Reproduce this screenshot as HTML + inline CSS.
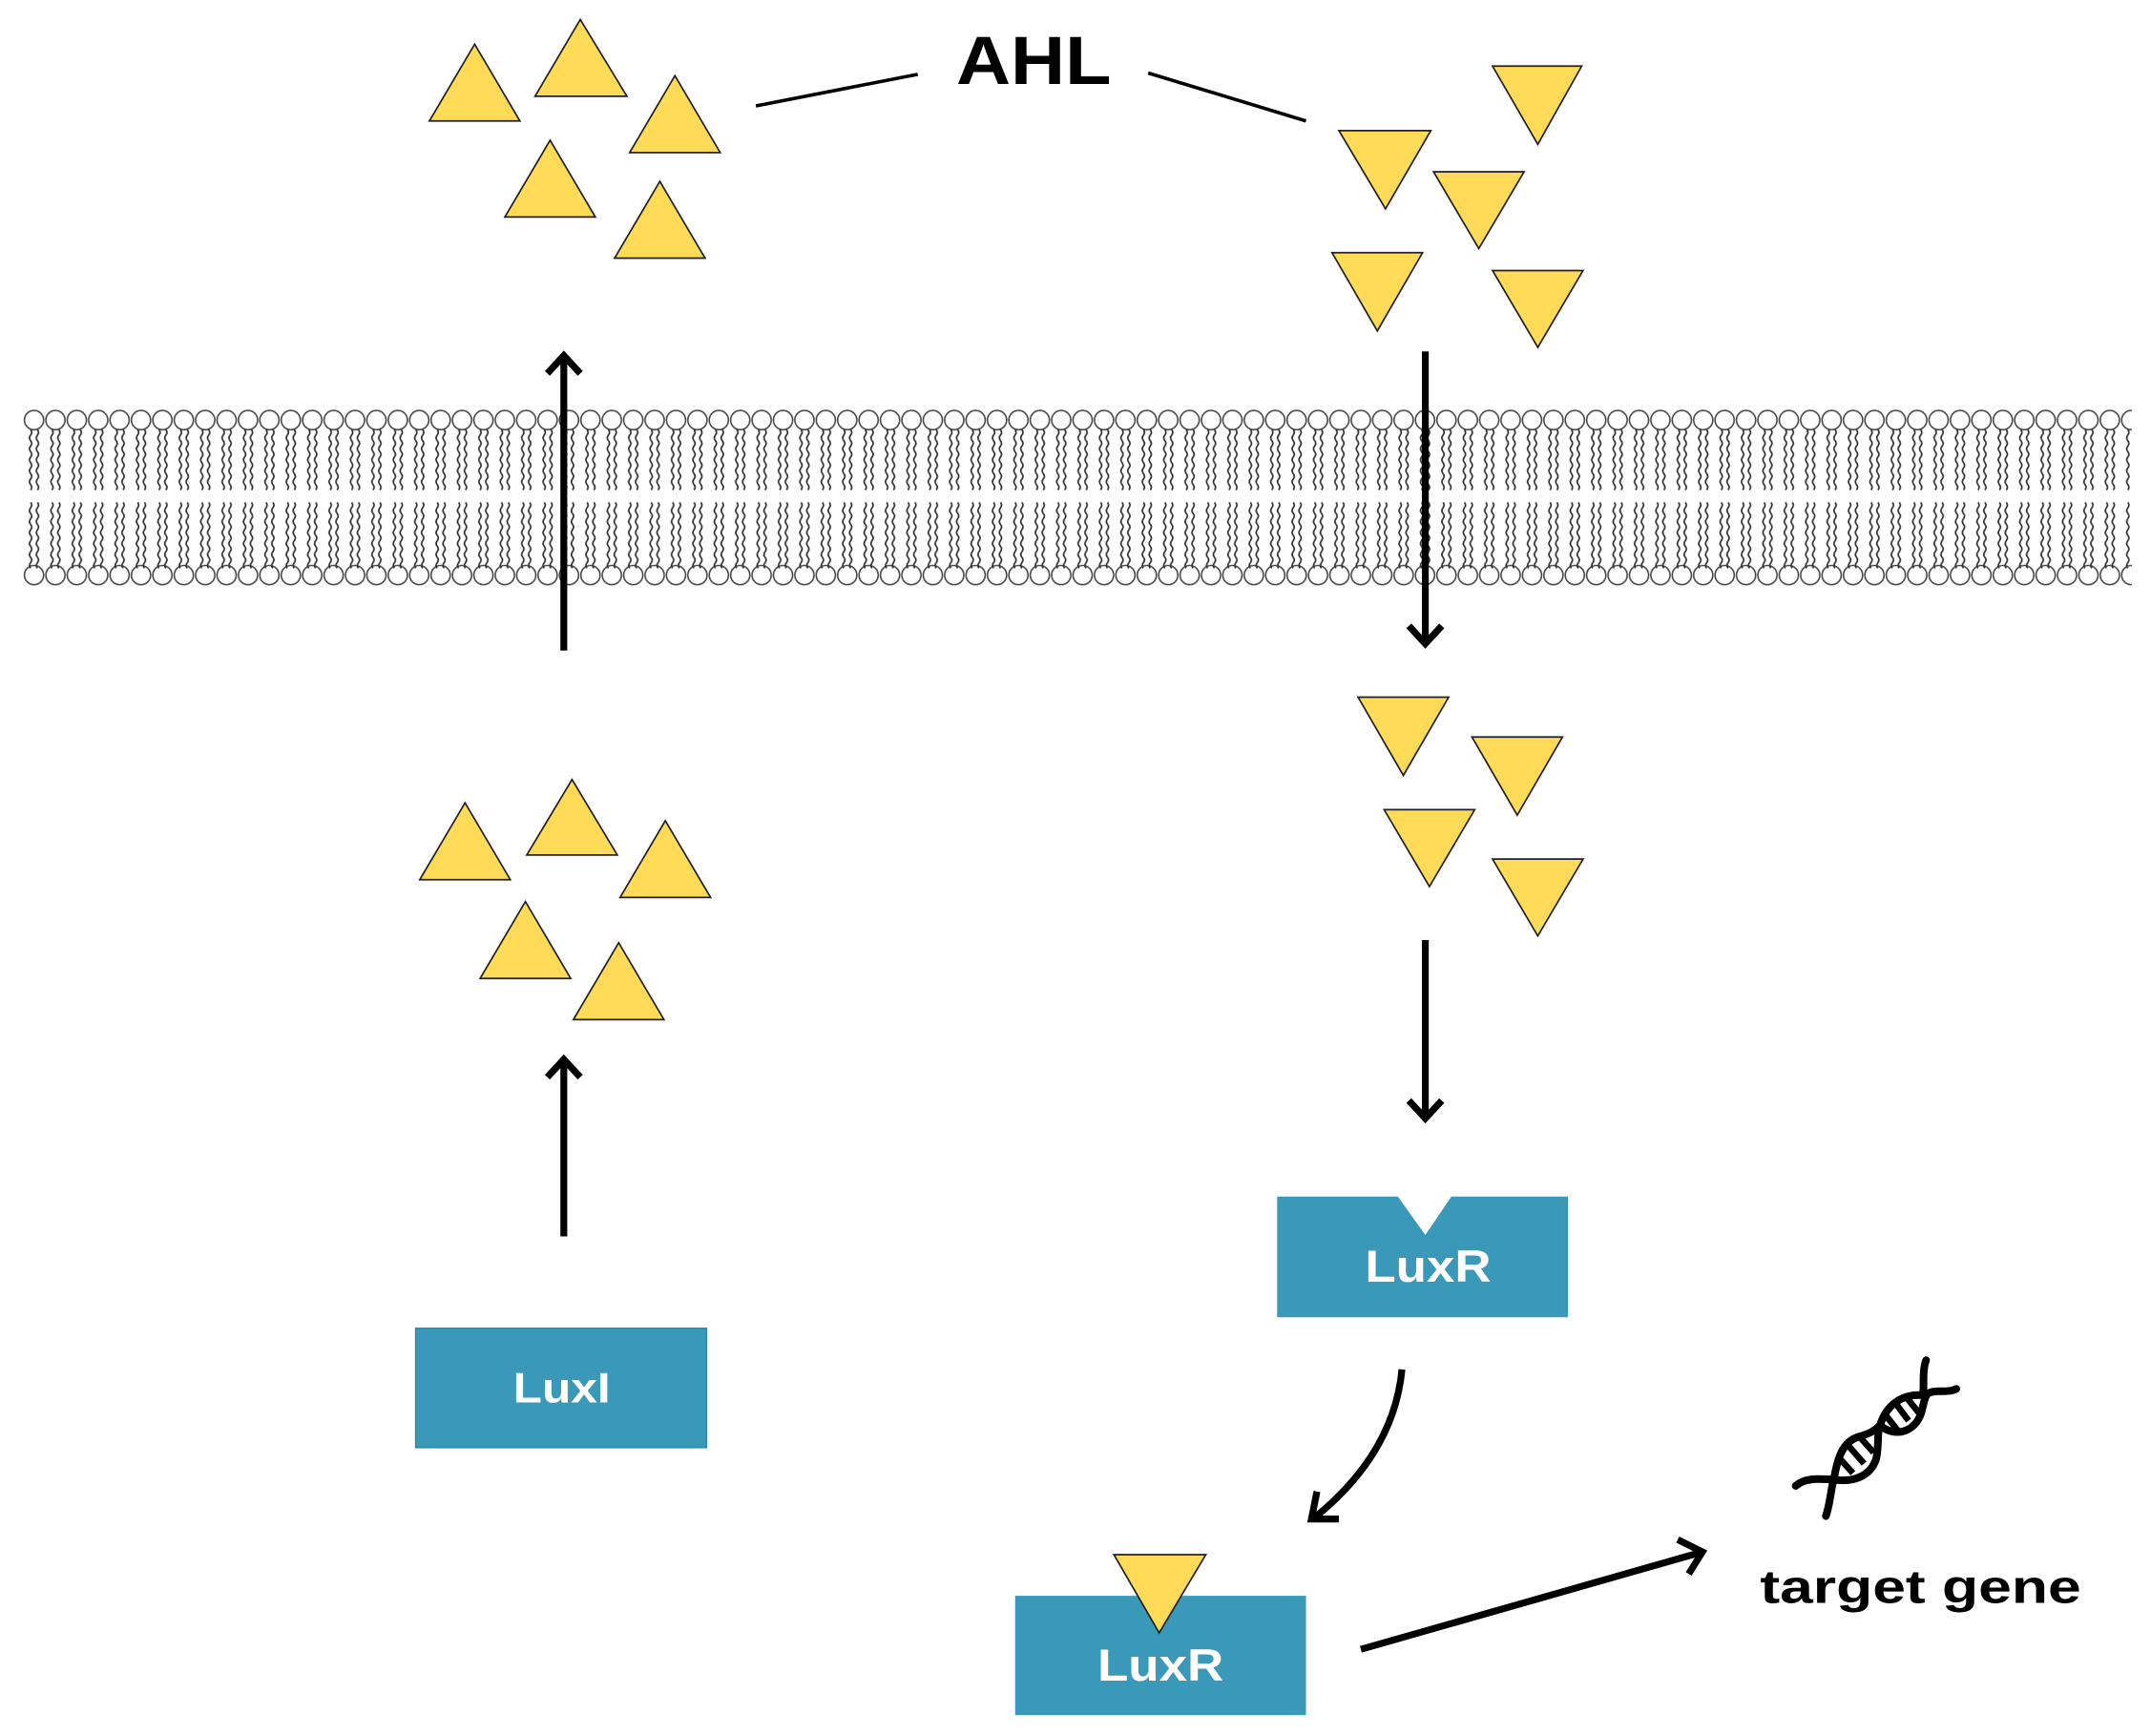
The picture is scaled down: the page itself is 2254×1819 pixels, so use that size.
<!DOCTYPE html>
<html><head><meta charset="utf-8"><style>
html,body{margin:0;padding:0;background:#fff;}
svg{display:block;}
</style></head><body>
<svg width="2254" height="1819" viewBox="0 0 1568 1265" xmlns="http://www.w3.org/2000/svg">
<defs>
<pattern id="lipid" x="17" y="0" width="15.6" height="1265" patternUnits="userSpaceOnUse">
  <circle cx="7.8" cy="306" r="7" fill="#fff" stroke="#444" stroke-width="1.1"/>
  <circle cx="7.8" cy="419" r="7" fill="#fff" stroke="#444" stroke-width="1.1"/>
  <path d="M5.3 313 q1.6 2 0 4 q-1.6 2 0 4 q1.6 2 0 4 q-1.6 2 0 4 q1.6 2 0 4 q-1.6 2 0 4 q1.6 2 0 4 q-1.6 2 0 4 q1.6 2 0 4 q-1.6 2 0 4 q1.6 2 0 4" fill="none" stroke="#333" stroke-width="1.2"/>
  <path d="M10.3 313 q1.6 2 0 4 q-1.6 2 0 4 q1.6 2 0 4 q-1.6 2 0 4 q1.6 2 0 4 q-1.6 2 0 4 q1.6 2 0 4 q-1.6 2 0 4 q1.6 2 0 4 q-1.6 2 0 4 q1.6 2 0 4" fill="none" stroke="#333" stroke-width="1.2"/>
  <path d="M5.3 366 q1.6 2 0 4 q-1.6 2 0 4 q1.6 2 0 4 q-1.6 2 0 4 q1.6 2 0 4 q-1.6 2 0 4 q1.6 2 0 4 q-1.6 2 0 4 q1.6 2 0 4 q-1.6 2 0 4 q1.6 2 0 4 q-1.6 2 0 4" fill="none" stroke="#333" stroke-width="1.2"/>
  <path d="M10.3 366 q1.6 2 0 4 q-1.6 2 0 4 q1.6 2 0 4 q-1.6 2 0 4 q1.6 2 0 4 q-1.6 2 0 4 q1.6 2 0 4 q-1.6 2 0 4 q1.6 2 0 4 q-1.6 2 0 4 q1.6 2 0 4 q-1.6 2 0 4" fill="none" stroke="#333" stroke-width="1.2"/>
</pattern>
</defs>
<rect x="17" y="296" width="1537" height="132" fill="url(#lipid)"/>

<g fill="#ffdb58" stroke="#222" stroke-width="1.2">
<polygon points="313,88 346,32 379,88"/>
<polygon points="390,70 423,14 457,70"/>
<polygon points="459,111 492,55 525,111"/>
<polygon points="368,158 401,102 434,158"/>
<polygon points="448,188 481,132 514,188"/>
<polygon points="1088,48 1153,48 1121,105"/>
<polygon points="976,95 1043,95 1010,152"/>
<polygon points="1045,125 1111,125 1078,181"/>
<polygon points="971,184 1037,184 1004,241"/>
<polygon points="1088,197 1154,197 1121,253"/>
<polygon points="306,641 339,585 372,641"/>
<polygon points="384,623 417,568 450,623"/>
<polygon points="452,654 485,598 518,654"/>
<polygon points="350,713 383,657 416,713"/>
<polygon points="418,743 451,687 484,743"/>
<polygon points="990,508 1056,508 1023,565"/>
<polygon points="1073,537 1139,537 1106,594"/>
<polygon points="1009,590 1075,590 1042,646"/>
<polygon points="1088,626 1154,626 1121,682"/>
</g>

<text x="697" y="61" font-family="Liberation Sans, sans-serif" font-weight="bold" font-size="50" textLength="113" lengthAdjust="spacingAndGlyphs" fill="#000">AHL</text>
<line x1="551" y1="77" x2="669" y2="54" stroke="#000" stroke-width="2.5"/>
<line x1="837" y1="53" x2="952" y2="88" stroke="#000" stroke-width="2.5"/>

<g stroke="#000" stroke-width="5" fill="none">
<line x1="411" y1="474" x2="411" y2="259"/>
<polyline points="399,272 411,259 423,272"/>
<line x1="411" y1="901" x2="411" y2="772"/>
<polyline points="399,785 411,772 423,785"/>
<line x1="1039" y1="256" x2="1039" y2="469"/>
<polyline points="1027,456 1039,469 1051,456"/>
<line x1="1039" y1="685" x2="1039" y2="815"/>
<polyline points="1027,802 1039,815 1051,802"/>
<path d="M1022 998 Q1016 1060 957 1107"/>
<polyline points="960,1087 956,1107 976,1107"/>
<line x1="992" y1="1202" x2="1241" y2="1131"/>
<polyline points="1223,1122 1241,1131 1231,1147"/>
</g>

<rect x="303" y="968" width="212" height="87" fill="#3a98b9" stroke="#2a8aa8" stroke-width="1"/>
<text x="374" y="1022" font-family="Liberation Sans, sans-serif" font-weight="bold" font-size="31" textLength="71" lengthAdjust="spacingAndGlyphs" fill="#fff">LuxI</text>

<polygon points="931,872 1019,872 1039,900 1058,872 1143,872 1143,960 931,960" fill="#3a98b9"/>
<text x="995" y="934" font-family="Liberation Sans, sans-serif" font-weight="bold" font-size="33" textLength="92" lengthAdjust="spacingAndGlyphs" fill="#fff">LuxR</text>

<rect x="740" y="1163" width="212" height="87" fill="#3a98b9"/>
<polygon points="812,1133 879,1133 845,1190" fill="#ffdb58" stroke="#222" stroke-width="1.2"/>
<text x="800" y="1225" font-family="Liberation Sans, sans-serif" font-weight="bold" font-size="33" textLength="92" lengthAdjust="spacingAndGlyphs" fill="#fff">LuxR</text>

<text x="1283" y="1168" font-family="Liberation Sans, sans-serif" font-weight="bold" font-size="34" textLength="234" lengthAdjust="spacingAndGlyphs" fill="#000">target gene</text>

<g transform="translate(1293.9,973.9) scale(0.2319)" stroke="#000" stroke-width="24" fill="none" stroke-linecap="round">
<path d="M160,565 C175,520 175,480 185,450 C195,390 210,330 265,315 C300,305 315,295 330,280 C380,320 440,300 460,240 C468,210 470,190 480,180 C505,165 540,180 570,165"/>
<path d="M65,470 C100,440 150,450 185,450 C245,460 300,440 318,385 C328,340 320,300 330,280 C350,215 400,180 465,185 C470,150 462,110 475,75"/>
<g stroke-width="20" stroke-linecap="butt">
<line x1="200" y1="380" x2="245" y2="430"/>
<line x1="232" y1="345" x2="280" y2="400"/>
<line x1="268" y1="318" x2="310" y2="365"/>
<line x1="342" y1="240" x2="385" y2="295"/>
<line x1="375" y1="205" x2="420" y2="265"/>
<line x1="410" y1="188" x2="452" y2="240"/>
</g>
</g>
</svg>
</body></html>
